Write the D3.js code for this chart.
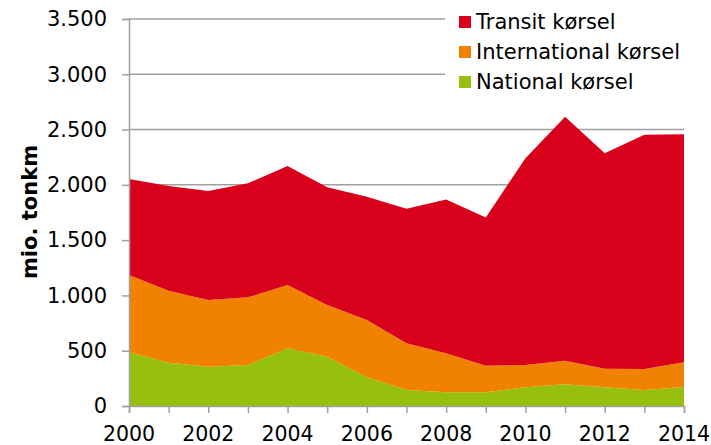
<!DOCTYPE html>
<html>
<head>
<meta charset="utf-8">
<script src="https://cdn.jsdelivr.net/npm/d3@7"></script>
<style>
  body { margin: 0; background: #fff; }
  text { font-family: "DejaVu Sans", Verdana, sans-serif; fill: #000; }
</style>
</head>
<body>
<div id="chart"></div>
<script>
// data (mio. tonkm)
var years = [2000, 2001, 2002, 2003, 2004, 2005, 2006, 2007, 2008, 2009, 2010, 2011, 2012, 2013, 2014];
var national = [486, 392, 356, 371, 522, 446, 260, 145, 124, 124, 169, 196, 169, 145, 172];
var international = [699, 651, 603, 612, 572, 467, 518, 422, 353, 241, 202, 214, 169, 190, 223];
var transit = [868, 947, 985, 1031, 1076, 1065, 1115, 1216, 1391, 1340, 1869, 2207, 1947, 2119, 2062];
var seriesNames = ["National kørsel", "International kørsel", "Transit kørsel"];
var seriesColors = ["#97bf0d", "#f08200", "#d9001b"];
var yTicks = [0, 500, 1000, 1500, 2000, 2500, 3000, 3500];
var xTicks = [2000, 2002, 2004, 2006, 2008, 2010, 2012, 2014];

var width = 711, height = 445;
var margin = {top: 19, right: 27, bottom: 39, left: 129};

var svg = d3.select("#chart").append("svg")
    .attr("width", width)
    .attr("height", height);

var x = d3.scaleLinear().domain([2000, 2014]).range([margin.left, width - margin.right]);
var y = d3.scaleLinear().domain([0, 3500]).range([height - margin.bottom, margin.top]);

var fmt = function(v) { return d3.format(",")(v).replace(/,/g, "."); };

// gridlines
svg.append("g")
  .selectAll("line")
  .data(yTicks.slice(1))
  .enter().append("line")
    .attr("x1", margin.left)
    .attr("x2", width - margin.right)
    .attr("y1", function(d) { return y(d); })
    .attr("y2", function(d) { return y(d); })
    .style("stroke", "#a0a0a0")
    .style("stroke-width", 1.5);

// stacked areas
var table = years.map(function(yr, i) {
  return {year: yr, national: national[i], international: international[i], transit: transit[i]};
});
var stack = d3.stack().keys(["national", "international", "transit"]);
var layers = stack(table);

var area = d3.area()
    .x(function(d) { return x(d.data.year); })
    .y0(function(d) { return y(d[0]); })
    .y1(function(d) { return y(d[1]); });

svg.append("g")
  .selectAll("path")
  .data(layers)
  .enter().append("path")
    .attr("d", area)
    .style("fill", function(d, i) { return seriesColors[i]; });

// y axis
var yAxis = svg.append("g")
    .attr("transform", "translate(" + margin.left + ",0)")
    .call(d3.axisLeft(y).tickValues(yTicks).tickSize(7).tickPadding(15).tickFormat(fmt));
yAxis.select(".domain").style("stroke", "#a0a0a0").style("stroke-width", 1.5);
yAxis.selectAll(".tick line").style("stroke", "#a0a0a0").style("stroke-width", 1.5);
yAxis.selectAll("text").style("font-size", "21px").style("font-family", "DejaVu Sans, Verdana, sans-serif");

// x axis
var xAxis = svg.append("g")
    .attr("transform", "translate(0," + (height - margin.bottom) + ")")
    .call(d3.axisBottom(x).ticks(14).tickSize(7).tickFormat(""));
xAxis.select(".domain").style("stroke", "#a0a0a0").style("stroke-width", 1.5);
xAxis.selectAll(".tick line").style("stroke", "#a0a0a0").style("stroke-width", 1.5);

svg.append("g")
  .selectAll("text")
  .data(xTicks)
  .enter().append("text")
    .attr("x", function(d) { return x(d); })
    .attr("y", 441)
    .style("text-anchor", "middle")
    .style("font-size", "20.5px")
    .text(function(d) { return d; });

// y label
svg.append("text")
    .attr("transform", "translate(37,212) rotate(-90)")
    .style("text-anchor", "middle")
    .style("font-size", "21px")
    .style("font-weight", "bold")
    .text("mio. tonkm");

// legend
var legend = svg.append("g").attr("class", "legend");
legend.append("rect")
    .attr("x", 445).attr("y", 0)
    .attr("width", width - 445).attr("height", 100)
    .style("fill", "#fff");

var legendOrder = [2, 1, 0];
legendOrder.forEach(function(k, i) {
  var row = legend.append("g").attr("transform", "translate(459," + (22 + i * 30) + ")");
  row.append("rect")
    .attr("x", 0).attr("y", -6)
    .attr("width", 12).attr("height", 12)
    .style("fill", seriesColors[k]);
  row.append("text")
    .attr("x", 17)
    .attr("dy", "0.35em")
    .style("font-size", "21px")
    .text(seriesNames[k]);
});
</script>
</body>
</html>
